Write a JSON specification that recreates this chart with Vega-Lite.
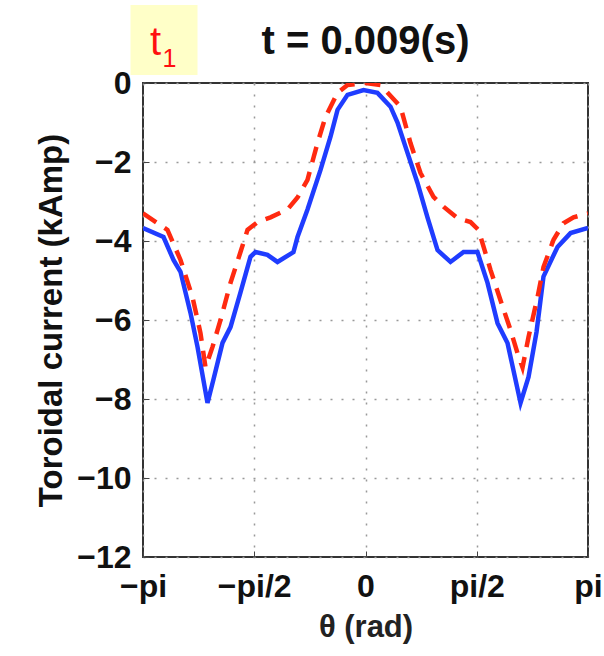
{
  "$schema": "https://vega.github.io/schema/vega-lite/v6.json",
  "autosize": {"type": "none"},
  "width": 445,
  "height": 474,
  "padding": {"left": 143, "top": 83, "right": 16, "bottom": 99},
  "background": "white",
  "config": {
    "font": "Liberation Sans",
    "view": {"stroke": "#333", "strokeWidth": 2}
  },
  "title": {
    "text": "t = 0.009(s)",
    "fontSize": 40,
    "fontWeight": "bold",
    "font": "Liberation Sans",
    "color": "#111",
    "anchor": "middle",
    "frame": "group",
    "offset": 0,
    "dy": 57
  },
  "datasets": {
    "curves": [
      {"theta": -3.1416, "current": -3.67, "series": "measured"},
      {"theta": -2.852, "current": -3.9, "series": "measured"},
      {"theta": -2.711, "current": -4.48, "series": "measured"},
      {"theta": -2.612, "current": -4.78, "series": "measured"},
      {"theta": -2.471, "current": -5.82, "series": "measured"},
      {"theta": -2.372, "current": -6.68, "series": "measured"},
      {"theta": -2.231, "current": -8.1, "series": "measured"},
      {"theta": -2.146, "current": -7.5, "series": "measured"},
      {"theta": -2.019, "current": -6.58, "series": "measured"},
      {"theta": -1.906, "current": -6.18, "series": "measured"},
      {"theta": -1.765, "current": -5.3, "series": "measured"},
      {"theta": -1.624, "current": -4.4, "series": "measured"},
      {"theta": -1.553, "current": -4.28, "series": "measured"},
      {"theta": -1.384, "current": -4.35, "series": "measured"},
      {"theta": -1.243, "current": -4.53, "series": "measured"},
      {"theta": -1.017, "current": -4.28, "series": "measured"},
      {"theta": -0.96, "current": -3.9, "series": "measured"},
      {"theta": -0.819, "current": -3.2, "series": "measured"},
      {"theta": -0.635, "current": -2.2, "series": "measured"},
      {"theta": -0.494, "current": -1.36, "series": "measured"},
      {"theta": -0.395, "current": -0.68, "series": "measured"},
      {"theta": -0.254, "current": -0.3, "series": "measured"},
      {"theta": -0.028, "current": -0.18, "series": "measured"},
      {"theta": 0.169, "current": -0.25, "series": "measured"},
      {"theta": 0.353, "current": -0.6, "series": "measured"},
      {"theta": 0.452, "current": -1.0, "series": "measured"},
      {"theta": 0.593, "current": -1.77, "series": "measured"},
      {"theta": 0.734, "current": -2.53, "series": "measured"},
      {"theta": 0.875, "current": -3.4, "series": "measured"},
      {"theta": 1.017, "current": -4.23, "series": "measured"},
      {"theta": 1.2, "current": -4.53, "series": "measured"},
      {"theta": 1.384, "current": -4.28, "series": "measured"},
      {"theta": 1.581, "current": -4.28, "series": "measured"},
      {"theta": 1.723, "current": -5.06, "series": "measured"},
      {"theta": 1.864, "current": -6.08, "series": "measured"},
      {"theta": 2.005, "current": -6.58, "series": "measured"},
      {"theta": 2.189, "current": -8.1, "series": "measured"},
      {"theta": 2.302, "current": -7.44, "series": "measured"},
      {"theta": 2.415, "current": -6.3, "series": "measured"},
      {"theta": 2.457, "current": -5.7, "series": "measured"},
      {"theta": 2.513, "current": -4.9, "series": "measured"},
      {"theta": 2.711, "current": -4.15, "series": "measured"},
      {"theta": 2.895, "current": -3.8, "series": "measured"},
      {"theta": 3.1416, "current": -3.67, "series": "measured"},
      {"theta": -3.1416, "current": -3.3, "series": "model"},
      {"theta": -2.796, "current": -3.72, "series": "model"},
      {"theta": -2.612, "current": -4.48, "series": "model"},
      {"theta": -2.443, "current": -5.42, "series": "model"},
      {"theta": -2.33, "current": -6.33, "series": "model"},
      {"theta": -2.259, "current": -7.2, "series": "model"},
      {"theta": -2.16, "current": -6.68, "series": "model"},
      {"theta": -2.047, "current": -6.0, "series": "model"},
      {"theta": -1.906, "current": -5.06, "series": "model"},
      {"theta": -1.765, "current": -4.28, "series": "model"},
      {"theta": -1.666, "current": -3.72, "series": "model"},
      {"theta": -1.525, "current": -3.52, "series": "model"},
      {"theta": -1.341, "current": -3.4, "series": "model"},
      {"theta": -1.101, "current": -3.2, "series": "model"},
      {"theta": -0.96, "current": -2.9, "series": "model"},
      {"theta": -0.819, "current": -2.45, "series": "model"},
      {"theta": -0.678, "current": -1.52, "series": "model"},
      {"theta": -0.565, "current": -0.86, "series": "model"},
      {"theta": -0.395, "current": -0.25, "series": "model"},
      {"theta": -0.254, "current": -0.05, "series": "model"},
      {"theta": 0.0, "current": 0.0, "series": "model"},
      {"theta": 0.212, "current": -0.05, "series": "model"},
      {"theta": 0.494, "current": -0.6, "series": "model"},
      {"theta": 0.635, "current": -1.52, "series": "model"},
      {"theta": 0.777, "current": -2.28, "series": "model"},
      {"theta": 0.96, "current": -2.88, "series": "model"},
      {"theta": 1.101, "current": -3.13, "series": "model"},
      {"theta": 1.299, "current": -3.42, "series": "model"},
      {"theta": 1.483, "current": -3.52, "series": "model"},
      {"theta": 1.596, "current": -3.72, "series": "model"},
      {"theta": 1.765, "current": -4.73, "series": "model"},
      {"theta": 1.906, "current": -5.5, "series": "model"},
      {"theta": 2.047, "current": -6.25, "series": "model"},
      {"theta": 2.146, "current": -6.84, "series": "model"},
      {"theta": 2.217, "current": -7.2, "series": "model"},
      {"theta": 2.302, "current": -6.43, "series": "model"},
      {"theta": 2.429, "current": -5.42, "series": "model"},
      {"theta": 2.513, "current": -4.66, "series": "model"},
      {"theta": 2.655, "current": -3.97, "series": "model"},
      {"theta": 2.796, "current": -3.55, "series": "model"},
      {"theta": 2.937, "current": -3.4, "series": "model"},
      {"theta": 3.1416, "current": -3.3, "series": "model"}
    ],
    "badge": [
      {"x0": -3.318, "x1": -2.372, "y0": 0.2, "y1": 1.975, "tx": -2.965, "ty": 1.01, "sx": -2.767, "sy": 0.6, "label": "t", "sub": "1"}
    ]
  },
  "layer": [
    {
      "data": {"name": "curves"},
      "transform": [{"filter": "datum.series === 'measured'"}],
      "mark": {"type": "line", "color": "#1f3cff", "strokeWidth": 4.5, "clip": true},
      "encoding": {
        "x": {
          "field": "theta",
          "type": "quantitative",
          "scale": {"domain": [-3.14159, 3.14159], "nice": false, "zero": false},
          "axis": {
            "values": [-3.14159, -1.5708, 0, 1.5708, 3.14159],
            "labelExpr": "datum.value < -3 ? '−pi' : datum.value < -1 ? '−pi/2' : datum.value < 1 ? '0' : datum.value < 3 ? 'pi/2' : 'pi'",
            "title": "θ (rad)",
            "titleFontSize": 31,
            "titleFontWeight": "bold",
            "titleColor": "#222",
            "titlePadding": 10,
            "labelFontSize": 32,
            "labelFontWeight": "bold",
            "labelColor": "#111",
            "labelPadding": 20,
            "labelFlush": false,
            "domain": false,
            "tickSize": -6,
            "tickColor": "#444",
            "grid": true,
            "gridDash": [2, 9],
            "gridColor": "#999",
            "gridWidth": 1.5
          }
        },
        "y": {
          "field": "current",
          "type": "quantitative",
          "scale": {"domain": [-12, 0], "nice": false},
          "axis": {
            "values": [-12, -10, -8, -6, -4, -2, 0],
            "title": "Toroidal current (kAmp)",
            "titleFontSize": 33,
            "titleFontWeight": "bold",
            "titleColor": "#111",
            "titlePadding": 8,
            "labelFontSize": 32,
            "labelFontWeight": "bold",
            "labelColor": "#111",
            "labelPadding": 18,
            "domain": false,
            "tickSize": -6,
            "tickColor": "#444",
            "grid": true,
            "gridDash": [2, 9],
            "gridColor": "#999",
            "gridWidth": 1.5
          }
        }
      }
    },
    {
      "data": {"name": "curves"},
      "transform": [{"filter": "datum.series === 'model'"}],
      "mark": {"type": "line", "color": "#ff2a10", "strokeWidth": 4.5, "strokeDash": [16, 10], "clip": true},
      "encoding": {
        "x": {"field": "theta", "type": "quantitative"},
        "y": {"field": "current", "type": "quantitative"}
      }
    },
    {
      "data": {"name": "badge"},
      "mark": {"type": "rect", "color": "#ffffc8"},
      "encoding": {
        "x": {"field": "x0", "type": "quantitative"},
        "x2": {"field": "x1"},
        "y": {"field": "y0", "type": "quantitative"},
        "y2": {"field": "y1"}
      }
    },
    {
      "data": {"name": "badge"},
      "mark": {"type": "text", "color": "#ff1010", "fontSize": 40, "font": "Liberation Sans", "align": "center", "baseline": "middle"},
      "encoding": {
        "x": {"field": "tx", "type": "quantitative"},
        "y": {"field": "ty", "type": "quantitative"},
        "text": {"field": "label"}
      }
    },
    {
      "data": {"name": "badge"},
      "mark": {"type": "text", "color": "#ff1010", "fontSize": 25, "font": "Liberation Sans", "align": "center", "baseline": "middle"},
      "encoding": {
        "x": {"field": "sx", "type": "quantitative"},
        "y": {"field": "sy", "type": "quantitative"},
        "text": {"field": "sub"}
      }
    }
  ]
}
